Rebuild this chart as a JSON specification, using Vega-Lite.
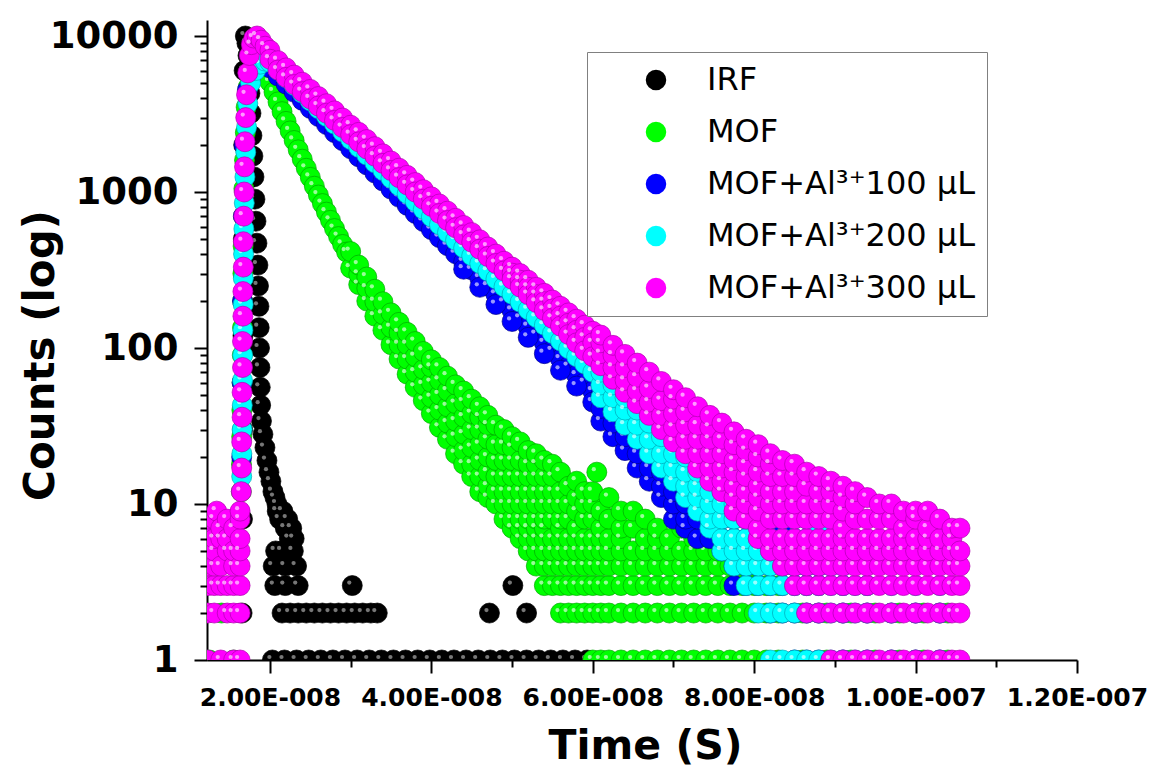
{
"$schema":"https://vega.github.io/schema/vega-lite/v6.json",
"width":870,"height":640,
"autosize":{"type":"none"},
"padding":{"left":207,"top":20,"right":75,"bottom":111},
"background":"white",
"config":{"view":{"stroke":null},"font":"DejaVu Sans"},
"datasets":{
"irf":[{"ns":16.55,"c":2},{"ns":16.6,"c":8},{"ns":16.62,"c":30},{"ns":16.66,"c":120},{"ns":16.7,"c":500},{"ns":16.75,"c":2000},{"ns":16.8,"c":6000},{"ns":16.95,"c":10000},{"ns":17.15,"c":9000},{"ns":17.28,"c":7500},{"ns":17.4,"c":5800},{"ns":17.52,"c":4300},{"ns":17.65,"c":3200},{"ns":17.77,"c":2300},{"ns":17.89,"c":1700},{"ns":18.02,"c":1250},{"ns":18.14,"c":900},{"ns":18.27,"c":650},{"ns":18.39,"c":470},{"ns":18.51,"c":340},{"ns":18.58,"c":250},{"ns":18.64,"c":185},{"ns":18.67,"c":135},{"ns":18.71,"c":100},{"ns":18.76,"c":75},{"ns":18.8,"c":56},{"ns":18.85,"c":43},{"ns":18.95,"c":34},{"ns":19.13,"c":28},{"ns":19.38,"c":23},{"ns":19.63,"c":19},{"ns":19.88,"c":16},{"ns":20.12,"c":14},{"ns":20.37,"c":12},{"ns":20.62,"c":11},{"ns":20.87,"c":10},{"ns":20.9,"c":9},{"ns":21.2,"c":8},{"ns":21.6,"c":9},{"ns":21.9,"c":7},{"ns":22.2,"c":8},{"ns":22.4,"c":6},{"ns":22.7,"c":7},{"ns":23.0,"c":6},{"ns":20.7,"c":5},{"ns":21.5,"c":5},{"ns":22.9,"c":5},{"ns":20.4,"c":4},{"ns":21.9,"c":4},{"ns":23.3,"c":4},{"ns":20.6,"c":3},{"ns":21.9,"c":3},{"ns":23.5,"c":3},{"ns":30.2,"c":3},{"ns":50.1,"c":3},
{"ns":21.5,"c":2},{"ns":22.5,"c":2},{"ns":23.5,"c":2},{"ns":24.5,"c":2},{"ns":25.5,"c":2},{"ns":26.5,"c":2},{"ns":27.5,"c":2},{"ns":28.5,"c":2},{"ns":29.5,"c":2},{"ns":30.5,"c":2},{"ns":31.5,"c":2},{"ns":32.5,"c":2},{"ns":33.3,"c":2},{"ns":47.2,"c":2},{"ns":51.8,"c":2},
{"ns":20.3,"c":1},{"ns":21.8,"c":1},{"ns":23.3,"c":1},{"ns":24.8,"c":1},{"ns":26.3,"c":1},{"ns":27.8,"c":1},{"ns":29.3,"c":1},{"ns":30.8,"c":1},{"ns":32.3,"c":1},{"ns":33.8,"c":1},{"ns":35.3,"c":1},{"ns":36.8,"c":1},{"ns":38.3,"c":1},{"ns":39.8,"c":1},{"ns":41.3,"c":1},{"ns":42.8,"c":1},{"ns":44.3,"c":1},{"ns":45.8,"c":1},{"ns":47.3,"c":1},{"ns":48.8,"c":1},{"ns":50.3,"c":1},{"ns":51.8,"c":1},{"ns":53.3,"c":1},{"ns":54.8,"c":1},{"ns":56.3,"c":1},{"ns":57.8,"c":1},{"ns":59.3,"c":1}],
"mof":[{"ns":12.5,"c":1},{"ns":14.0,"c":2},{"ns":15.5,"c":1},
{"ns":16.45,"c":12},{"ns":16.47,"c":18},{"ns":16.5,"c":27},{"ns":16.52,"c":40},{"ns":16.55,"c":60},{"ns":16.57,"c":90},{"ns":16.6,"c":135},{"ns":16.62,"c":200},{"ns":16.65,"c":300},{"ns":16.68,"c":450},{"ns":16.72,"c":700},{"ns":16.77,"c":1050},{"ns":16.85,"c":1600},{"ns":16.95,"c":2400},{"ns":17.05,"c":3500},{"ns":17.3,"c":4700},{"ns":17.9,"c":5800},{"ns":18.5,"c":6500},{"ns":19.0,"c":6830},
{"ns":19.5,"c":5886},{"ns":20,"c":5073},{"ns":20.5,"c":4380},{"ns":21,"c":3782},{"ns":21.5,"c":3275},{"ns":22,"c":2836},{"ns":22.5,"c":2463},{"ns":23,"c":2139},{"ns":23.5,"c":1863},{"ns":24,"c":1623},{"ns":24.5,"c":1419},{"ns":25,"c":1241},{"ns":25.5,"c":1089},{"ns":26,"c":956},{"ns":26.5,"c":843},{"ns":27,"c":743},{"ns":27.5,"c":658},{"ns":28,"c":583},{"ns":28.5,"c":518},{"ns":29,"c":461},{"ns":29.5,"c":412},
{"ns":30,"c":325},{"ns":30,"c":415},
{"ns":31,"c":255},{"ns":31,"c":297},{"ns":31,"c":340},
{"ns":32,"c":200},{"ns":32,"c":242},{"ns":32,"c":285},
{"ns":33,"c":160},{"ns":33,"c":198},{"ns":33,"c":238},
{"ns":34,"c":130},{"ns":34,"c":164},{"ns":34,"c":198},
{"ns":35,"c":105},{"ns":35,"c":135},{"ns":35,"c":168},
{"ns":36,"c":85},{"ns":36,"c":105},{"ns":36,"c":125},{"ns":36,"c":146},
{"ns":37,"c":68},{"ns":37,"c":85},{"ns":37,"c":105},{"ns":37,"c":126},
{"ns":38,"c":56},{"ns":38,"c":70},{"ns":38,"c":88},{"ns":38,"c":110},
{"ns":39,"c":46},{"ns":39,"c":58},{"ns":39,"c":73},{"ns":39,"c":95},
{"ns":40,"c":38},{"ns":40,"c":48},{"ns":40,"c":60},{"ns":40,"c":75},{"ns":40,"c":84},
{"ns":41,"c":31},{"ns":41,"c":40},{"ns":41,"c":50},{"ns":41,"c":62},{"ns":41,"c":75},
{"ns":42,"c":26},{"ns":42,"c":33},{"ns":42,"c":42},{"ns":42,"c":53},{"ns":42,"c":66},
{"ns":43,"c":21},{"ns":43,"c":27},{"ns":43,"c":34},{"ns":43,"c":44},{"ns":43,"c":58},
{"ns":44,"c":18},{"ns":44,"c":22},{"ns":44,"c":28},{"ns":44,"c":36},{"ns":44,"c":45},{"ns":44,"c":53},
{"ns":45,"c":15},{"ns":45,"c":18},{"ns":45,"c":23},{"ns":45,"c":30},{"ns":45,"c":38},{"ns":45,"c":47},
{"ns":46,"c":12},{"ns":46,"c":15},{"ns":46,"c":19},{"ns":46,"c":24},{"ns":46,"c":30},{"ns":46,"c":36},{"ns":46,"c":42},
{"ns":47,"c":11},{"ns":47,"c":13},{"ns":47,"c":16},{"ns":47,"c":20},{"ns":47,"c":26},{"ns":47,"c":32},{"ns":47,"c":37},
{"ns":48,"c":10},{"ns":48,"c":12},{"ns":48,"c":15},{"ns":48,"c":19},{"ns":48,"c":24},{"ns":48,"c":32},
{"ns":49,"c":8},{"ns":49,"c":10},{"ns":49,"c":12},{"ns":49,"c":15},{"ns":49,"c":19},{"ns":49,"c":24},{"ns":49,"c":30},
{"ns":50,"c":7},{"ns":50,"c":8},{"ns":50,"c":10},{"ns":50,"c":12},{"ns":50,"c":15},{"ns":50,"c":19},{"ns":50,"c":23},{"ns":50,"c":27},
{"ns":51,"c":6},{"ns":51,"c":7},{"ns":51,"c":8},{"ns":51,"c":10},{"ns":51,"c":12},{"ns":51,"c":15},{"ns":51,"c":19},{"ns":51,"c":25},
{"ns":52,"c":5},{"ns":52,"c":6},{"ns":52,"c":7},{"ns":52,"c":8},{"ns":52,"c":10},{"ns":52,"c":12},{"ns":52,"c":15},{"ns":52,"c":18},{"ns":52,"c":22},
{"ns":53,"c":4},{"ns":53,"c":5},{"ns":53,"c":6},{"ns":53,"c":7},{"ns":53,"c":8},{"ns":53,"c":10},{"ns":53,"c":12},{"ns":53,"c":15},{"ns":53,"c":18},{"ns":53,"c":21},
{"ns":54,"c":3},{"ns":54,"c":4},{"ns":54,"c":5},{"ns":54,"c":6},{"ns":54,"c":7},{"ns":54,"c":8},{"ns":54,"c":10},{"ns":54,"c":12},{"ns":54,"c":15},{"ns":54,"c":19},
{"ns":55,"c":3},{"ns":55,"c":4},{"ns":55,"c":5},{"ns":55,"c":6},{"ns":55,"c":8},{"ns":55,"c":10},{"ns":55,"c":12},{"ns":55,"c":15},{"ns":55,"c":18},
{"ns":56,"c":2},{"ns":56,"c":3},{"ns":56,"c":4},{"ns":56,"c":5},{"ns":56,"c":6},{"ns":56,"c":7},{"ns":56,"c":8},{"ns":56,"c":10},{"ns":56,"c":12},{"ns":56,"c":16},
{"ns":57,"c":2},{"ns":57,"c":3},{"ns":57,"c":4},{"ns":57,"c":5},{"ns":57,"c":6},{"ns":57,"c":8},{"ns":57,"c":10},{"ns":57,"c":13},
{"ns":58,"c":2},{"ns":58,"c":3},{"ns":58,"c":4},{"ns":58,"c":5},{"ns":58,"c":6},{"ns":58,"c":7},{"ns":58,"c":9},{"ns":58,"c":11},{"ns":58,"c":14},
{"ns":59,"c":2},{"ns":59,"c":3},{"ns":59,"c":4},{"ns":59,"c":5},{"ns":59,"c":6},{"ns":59,"c":8},{"ns":59,"c":10},{"ns":59,"c":12},
{"ns":60,"c":1},{"ns":60,"c":2},{"ns":60,"c":3},{"ns":60,"c":4},{"ns":60,"c":5},{"ns":60,"c":6},{"ns":60,"c":8},{"ns":60,"c":10},{"ns":60,"c":12},
{"ns":60.5,"c":16},
{"ns":61,"c":1},{"ns":61,"c":2},{"ns":61,"c":3},{"ns":61,"c":4},{"ns":61,"c":5},{"ns":61,"c":6},{"ns":61,"c":7},{"ns":61,"c":9},
{"ns":62,"c":1},{"ns":62,"c":2},{"ns":62,"c":3},{"ns":62,"c":4},{"ns":62,"c":5},{"ns":62,"c":6},{"ns":62,"c":8},{"ns":62,"c":11},
{"ns":63.5,"c":1},{"ns":63.5,"c":2},{"ns":63.5,"c":3},{"ns":63.5,"c":4},{"ns":63.5,"c":5},{"ns":63.5,"c":6},{"ns":63.5,"c":7},{"ns":63.5,"c":9},
{"ns":65,"c":1},{"ns":65,"c":2},{"ns":65,"c":3},{"ns":65,"c":4},{"ns":65,"c":5},{"ns":65,"c":7},{"ns":65,"c":9},
{"ns":66.5,"c":1},{"ns":66.5,"c":2},{"ns":66.5,"c":3},{"ns":66.5,"c":4},{"ns":66.5,"c":5},{"ns":66.5,"c":6},{"ns":66.5,"c":8},
{"ns":68,"c":1},{"ns":68,"c":2},{"ns":68,"c":3},{"ns":68,"c":4},{"ns":68,"c":5},{"ns":68,"c":6},{"ns":68,"c":7},
{"ns":69.5,"c":1},{"ns":69.5,"c":2},{"ns":69.5,"c":3},{"ns":69.5,"c":4},{"ns":69.5,"c":5},{"ns":69.5,"c":6},
{"ns":71,"c":1},{"ns":71,"c":2},{"ns":71,"c":3},{"ns":71,"c":4},{"ns":71,"c":5},{"ns":71,"c":7},
{"ns":72.5,"c":1},{"ns":72.5,"c":2},{"ns":72.5,"c":3},{"ns":72.5,"c":4},{"ns":72.5,"c":5},{"ns":72.5,"c":6},
{"ns":74,"c":1},{"ns":74,"c":2},{"ns":74,"c":3},{"ns":74,"c":4},{"ns":74,"c":5},
{"ns":75.5,"c":1},{"ns":75.5,"c":2},{"ns":75.5,"c":3},{"ns":75.5,"c":4},{"ns":75.5,"c":5},
{"ns":77,"c":1},{"ns":77,"c":2},{"ns":77,"c":3},{"ns":77,"c":4},{"ns":77,"c":5},
{"ns":78.5,"c":1},{"ns":78.5,"c":2},{"ns":78.5,"c":3},{"ns":78.5,"c":4},
{"ns":80,"c":1},{"ns":80,"c":2},{"ns":80,"c":3},{"ns":80,"c":4},
{"ns":81.5,"c":1},{"ns":81.5,"c":2},{"ns":81.5,"c":3},
{"ns":83,"c":1},{"ns":83,"c":2},{"ns":83,"c":3},
{"ns":86,"c":1},{"ns":86,"c":2},{"ns":89,"c":1},{"ns":89,"c":2},{"ns":92,"c":1},{"ns":92,"c":2},{"ns":95,"c":1},{"ns":95,"c":2},{"ns":98,"c":1},{"ns":98,"c":2},{"ns":101,"c":1},{"ns":101,"c":2},{"ns":104,"c":1},{"ns":104,"c":2}],
"m100":[{"ns":16.5,"c":20},{"ns":16.55,"c":60},{"ns":16.6,"c":200},{"ns":16.7,"c":700},{"ns":16.8,"c":2000},{"ns":17.2,"c":4500},{"ns":18.0,"c":6000},{"ns":18.7,"c":6700},{"ns":19.3,"c":6600},
{"ns":20,"c":6236},{"ns":21,"c":5535},{"ns":22,"c":4913},{"ns":23,"c":4361},{"ns":24,"c":3871},{"ns":25,"c":3435},{"ns":26,"c":3049},{"ns":27,"c":2707},{"ns":28,"c":2403},{"ns":29,"c":2133},{"ns":30,"c":1893},{"ns":31,"c":1680},{"ns":32,"c":1491},{"ns":33,"c":1323},{"ns":34,"c":1175},{"ns":35,"c":1043},{"ns":36,"c":925},{"ns":37,"c":821},{"ns":38,"c":729},{"ns":39,"c":647},{"ns":40,"c":574},{"ns":41,"c":510},{"ns":42,"c":453},{"ns":43,"c":402},{"ns":44,"c":357},{"ns":45,"c":317},{"ns":46,"c":281},{"ns":47,"c":249},{"ns":48,"c":221},{"ns":49,"c":196},{"ns":50,"c":174},{"ns":51,"c":155},{"ns":52,"c":137},{"ns":53,"c":122},{"ns":54,"c":108},{"ns":55,"c":96},{"ns":56,"c":85},{"ns":57,"c":76},{"ns":58,"c":67},{"ns":59,"c":60},{"ns":60,"c":53},
{"ns":44,"c":320},{"ns":46,"c":245},{"ns":48,"c":190},{"ns":50,"c":148},{"ns":52,"c":117},{"ns":54,"c":92},{"ns":56,"c":72},{"ns":58,"c":57},{"ns":60,"c":45},
{"ns":61,"c":34},{"ns":61,"c":41},{"ns":61,"c":50},{"ns":61,"c":61},
{"ns":62.5,"c":27},{"ns":62.5,"c":33},{"ns":62.5,"c":40},{"ns":62.5,"c":52},
{"ns":64,"c":22},{"ns":64,"c":27},{"ns":64,"c":33},{"ns":64,"c":45},
{"ns":65.5,"c":17},{"ns":65.5,"c":21},{"ns":65.5,"c":27},{"ns":65.5,"c":33},{"ns":65.5,"c":38},
{"ns":67,"c":14},{"ns":67,"c":17},{"ns":67,"c":22},{"ns":67,"c":27},{"ns":67,"c":33},
{"ns":68.5,"c":11},{"ns":68.5,"c":13},{"ns":68.5,"c":16},{"ns":68.5,"c":20},{"ns":68.5,"c":24},{"ns":68.5,"c":28},
{"ns":70,"c":8},{"ns":70,"c":10},{"ns":70,"c":12},{"ns":70,"c":15},{"ns":70,"c":19},{"ns":70,"c":24},
{"ns":71.5,"c":7},{"ns":71.5,"c":8},{"ns":71.5,"c":10},{"ns":71.5,"c":12},{"ns":71.5,"c":15},{"ns":71.5,"c":18},{"ns":71.5,"c":21},
{"ns":73,"c":6},{"ns":73,"c":8},{"ns":73,"c":10},{"ns":73,"c":12},{"ns":73,"c":15},{"ns":73,"c":18},
{"ns":74.5,"c":6},{"ns":74.5,"c":8},{"ns":74.5,"c":10},{"ns":74.5,"c":13},{"ns":74.5,"c":16},
{"ns":76,"c":5},{"ns":76,"c":6},{"ns":76,"c":8},{"ns":76,"c":10},{"ns":76,"c":12},{"ns":76,"c":14},
{"ns":77.5,"c":3},{"ns":77.5,"c":4},{"ns":77.5,"c":5},{"ns":77.5,"c":6},{"ns":77.5,"c":8},{"ns":77.5,"c":10},{"ns":77.5,"c":12},
{"ns":79,"c":3},{"ns":79,"c":4},{"ns":79,"c":5},{"ns":79,"c":6},{"ns":79,"c":8},{"ns":79,"c":10},
{"ns":80.5,"c":3},{"ns":80.5,"c":4},{"ns":80.5,"c":5},{"ns":80.5,"c":6},{"ns":80.5,"c":8},{"ns":80.5,"c":9},
{"ns":82,"c":2},{"ns":82,"c":3},{"ns":82,"c":4},{"ns":82,"c":5},{"ns":82,"c":6},{"ns":82,"c":8},
{"ns":83.5,"c":2},{"ns":83.5,"c":3},{"ns":83.5,"c":4},{"ns":83.5,"c":5},{"ns":83.5,"c":7},
{"ns":85,"c":1},{"ns":85,"c":2},{"ns":85,"c":3},{"ns":85,"c":4},{"ns":85,"c":6},
{"ns":86.5,"c":1},{"ns":86.5,"c":2},{"ns":86.5,"c":3},{"ns":86.5,"c":4},{"ns":86.5,"c":5},
{"ns":88,"c":1},{"ns":88,"c":2},{"ns":88,"c":3},{"ns":88,"c":4},
{"ns":91,"c":1},{"ns":91,"c":2},{"ns":91,"c":3},{"ns":94,"c":1},{"ns":94,"c":2},{"ns":94,"c":3},{"ns":97,"c":1},{"ns":97,"c":2},{"ns":100,"c":1},{"ns":100,"c":2},{"ns":103,"c":1},{"ns":103,"c":2}],
"m200":[{"ns":16.5,"c":15},{"ns":16.52,"c":21},{"ns":16.55,"c":30},{"ns":16.57,"c":43},{"ns":16.6,"c":62},{"ns":16.62,"c":90},{"ns":16.65,"c":130},{"ns":16.68,"c":190},{"ns":16.7,"c":280},{"ns":16.73,"c":400},{"ns":16.77,"c":580},{"ns":16.82,"c":850},{"ns":16.9,"c":1250},{"ns":17.0,"c":1800},{"ns":17.1,"c":2600},{"ns":17.25,"c":3700},{"ns":17.6,"c":5000},{"ns":18.2,"c":6000},{"ns":18.8,"c":6600},{"ns":19.4,"c":6900},
{"ns":20,"c":6800},{"ns":21,"c":6066},{"ns":22,"c":5411},{"ns":23,"c":4826},{"ns":24,"c":4305},{"ns":25,"c":3840},{"ns":26,"c":3425},{"ns":27,"c":3055},{"ns":28,"c":2725},{"ns":29,"c":2431},{"ns":30,"c":2169},{"ns":31,"c":1934},{"ns":32,"c":1725},{"ns":33,"c":1539},{"ns":34,"c":1373},{"ns":35,"c":1225},{"ns":36,"c":1092},{"ns":37,"c":974},{"ns":38,"c":869},{"ns":39,"c":775},{"ns":40,"c":692},{"ns":41,"c":617},{"ns":42,"c":550},{"ns":43,"c":491},{"ns":44,"c":438},{"ns":45,"c":390},{"ns":46,"c":348},{"ns":47,"c":311},{"ns":48,"c":277},{"ns":49,"c":247},{"ns":50,"c":221},{"ns":51,"c":197},{"ns":52,"c":176},{"ns":53,"c":157},{"ns":54,"c":140},{"ns":55,"c":124},{"ns":56,"c":111},{"ns":57,"c":99},{"ns":58,"c":88},{"ns":59,"c":79},{"ns":60,"c":70},
{"ns":61,"c":48},{"ns":61,"c":58},{"ns":61,"c":70},{"ns":61,"c":80},
{"ns":62.5,"c":39},{"ns":62.5,"c":48},{"ns":62.5,"c":58},{"ns":62.5,"c":68},
{"ns":64,"c":32},{"ns":64,"c":40},{"ns":64,"c":48},{"ns":64,"c":59},
{"ns":65.5,"c":26},{"ns":65.5,"c":32},{"ns":65.5,"c":40},{"ns":65.5,"c":51},
{"ns":67,"c":21},{"ns":67,"c":26},{"ns":67,"c":33},{"ns":67,"c":44},
{"ns":68.5,"c":17},{"ns":68.5,"c":21},{"ns":68.5,"c":27},{"ns":68.5,"c":33},{"ns":68.5,"c":38},
{"ns":70,"c":14},{"ns":70,"c":17},{"ns":70,"c":21},{"ns":70,"c":27},{"ns":70,"c":33},
{"ns":71.5,"c":11},{"ns":71.5,"c":13},{"ns":71.5,"c":16},{"ns":71.5,"c":20},{"ns":71.5,"c":24},{"ns":71.5,"c":29},
{"ns":73,"c":9},{"ns":73,"c":11},{"ns":73,"c":13},{"ns":73,"c":16},{"ns":73,"c":20},{"ns":73,"c":25},
{"ns":74.5,"c":7},{"ns":74.5,"c":8},{"ns":74.5,"c":10},{"ns":74.5,"c":12},{"ns":74.5,"c":15},{"ns":74.5,"c":18},{"ns":74.5,"c":22},
{"ns":76,"c":5},{"ns":76,"c":6},{"ns":76,"c":8},{"ns":76,"c":10},{"ns":76,"c":12},{"ns":76,"c":15},{"ns":76,"c":19},
{"ns":77.5,"c":4},{"ns":77.5,"c":5},{"ns":77.5,"c":6},{"ns":77.5,"c":8},{"ns":77.5,"c":10},{"ns":77.5,"c":12},{"ns":77.5,"c":14},{"ns":77.5,"c":17},
{"ns":79,"c":3},{"ns":79,"c":4},{"ns":79,"c":5},{"ns":79,"c":6},{"ns":79,"c":8},{"ns":79,"c":10},{"ns":79,"c":12},{"ns":79,"c":15},
{"ns":80.5,"c":2},{"ns":80.5,"c":3},{"ns":80.5,"c":4},{"ns":80.5,"c":5},{"ns":80.5,"c":6},{"ns":80.5,"c":8},{"ns":80.5,"c":10},{"ns":80.5,"c":13},
{"ns":82,"c":1},{"ns":82,"c":2},{"ns":82,"c":3},{"ns":82,"c":4},{"ns":82,"c":5},{"ns":82,"c":6},{"ns":82,"c":8},{"ns":82,"c":10},{"ns":82,"c":12},
{"ns":83.5,"c":1},{"ns":83.5,"c":2},{"ns":83.5,"c":3},{"ns":83.5,"c":4},{"ns":83.5,"c":5},{"ns":83.5,"c":6},{"ns":83.5,"c":8},{"ns":83.5,"c":10},
{"ns":85,"c":1},{"ns":85,"c":2},{"ns":85,"c":3},{"ns":85,"c":4},{"ns":85,"c":5},{"ns":85,"c":6},{"ns":85,"c":8},{"ns":85,"c":9},
{"ns":86.5,"c":1},{"ns":86.5,"c":2},{"ns":86.5,"c":3},{"ns":86.5,"c":4},{"ns":86.5,"c":5},{"ns":86.5,"c":6},{"ns":86.5,"c":8},
{"ns":88,"c":1},{"ns":88,"c":2},{"ns":88,"c":3},{"ns":88,"c":4},{"ns":88,"c":5},{"ns":88,"c":7},
{"ns":89.5,"c":1},{"ns":89.5,"c":2},{"ns":89.5,"c":3},{"ns":89.5,"c":4},{"ns":89.5,"c":6},
{"ns":91,"c":1},{"ns":91,"c":2},{"ns":91,"c":3},{"ns":91,"c":4},{"ns":91,"c":6},
{"ns":92.5,"c":1},{"ns":92.5,"c":2},{"ns":92.5,"c":3},{"ns":92.5,"c":5},
{"ns":94,"c":1},{"ns":94,"c":2},{"ns":94,"c":3},{"ns":94,"c":5},
{"ns":97,"c":1},{"ns":97,"c":2},{"ns":97,"c":3},{"ns":100,"c":1},{"ns":100,"c":2},{"ns":100,"c":3},{"ns":103,"c":1},{"ns":103,"c":2},{"ns":103,"c":3}],
"m300":[{"ns":12.3,"c":1},{"ns":12.3,"c":2},{"ns":12.3,"c":3},{"ns":12.3,"c":4},{"ns":12.3,"c":5},{"ns":12.3,"c":6},{"ns":12.3,"c":7},{"ns":12.3,"c":8},
{"ns":13.1,"c":2},{"ns":13.1,"c":3},{"ns":13.1,"c":4},{"ns":13.1,"c":5},{"ns":13.1,"c":6},{"ns":13.1,"c":8},{"ns":13.4,"c":9},
{"ns":13.9,"c":1},{"ns":13.9,"c":3},{"ns":13.9,"c":4},{"ns":13.9,"c":6},{"ns":13.9,"c":7},
{"ns":14.7,"c":2},{"ns":14.7,"c":3},{"ns":14.7,"c":5},{"ns":14.7,"c":6},{"ns":14.7,"c":8},
{"ns":15.5,"c":1},{"ns":15.5,"c":2},{"ns":15.5,"c":3},{"ns":15.5,"c":4},{"ns":15.5,"c":5},{"ns":15.5,"c":7},
{"ns":16.3,"c":1},{"ns":16.3,"c":2},{"ns":16.3,"c":3},{"ns":16.3,"c":4},{"ns":16.3,"c":5},{"ns":16.3,"c":6},{"ns":16.3,"c":8},{"ns":16.3,"c":9},
{"ns":16.45,"c":12},{"ns":16.5,"c":17},{"ns":16.5,"c":25},{"ns":16.55,"c":36},{"ns":16.55,"c":52},{"ns":16.6,"c":75},{"ns":16.6,"c":110},{"ns":16.65,"c":160},{"ns":16.65,"c":230},{"ns":16.7,"c":330},{"ns":16.7,"c":480},{"ns":16.75,"c":700},{"ns":16.8,"c":1000},{"ns":16.85,"c":1450},{"ns":16.9,"c":2100},{"ns":17.0,"c":3000},{"ns":17.1,"c":4200},{"ns":17.25,"c":5800},{"ns":17.45,"c":7500},{"ns":17.7,"c":8800},{"ns":18.0,"c":9700},{"ns":18.4,"c":10000},{"ns":18.9,"c":9400},{"ns":19.4,"c":8600},
{"ns":20,"c":8100},{"ns":20,"c":7100},{"ns":21,"c":6950},{"ns":21,"c":6050},{"ns":22,"c":6245},{"ns":22,"c":5427},{"ns":23,"c":5620},{"ns":23,"c":4885},{"ns":24,"c":5055},{"ns":24,"c":4393},{"ns":25,"c":4548},{"ns":25,"c":3953},{"ns":26,"c":4092},{"ns":26,"c":3556},{"ns":27,"c":3681},{"ns":27,"c":3199},{"ns":28,"c":3312},{"ns":28,"c":2878},{"ns":29,"c":2980},{"ns":29,"c":2590},{"ns":30,"c":2680},{"ns":30,"c":2330},{"ns":31,"c":2412},{"ns":31,"c":2096},{"ns":32,"c":2170},{"ns":32,"c":1886},{"ns":33,"c":1952},{"ns":33,"c":1696},{"ns":34,"c":1756},{"ns":34,"c":1526},{"ns":35,"c":1580},{"ns":35,"c":1374},{"ns":36,"c":1422},{"ns":36,"c":1236},{"ns":37,"c":1279},{"ns":37,"c":1111},{"ns":38,"c":1150},{"ns":38,"c":1000},{"ns":39,"c":1035},{"ns":39,"c":899},{"ns":40,"c":931},{"ns":40,"c":809},{"ns":41,"c":838},{"ns":41,"c":728},{"ns":42,"c":754},{"ns":42,"c":656},{"ns":43,"c":678},{"ns":43,"c":590},{"ns":44,"c":610},{"ns":44,"c":530},{"ns":45,"c":549},{"ns":45,"c":477},{"ns":46,"c":494},{"ns":46,"c":430},{"ns":47,"c":444},{"ns":47,"c":386},{"ns":48,"c":400},{"ns":48,"c":348},{"ns":49,"c":360},{"ns":49,"c":312},
{"ns":50,"c":330},{"ns":50,"c":302},{"ns":50,"c":276},{"ns":51,"c":300},{"ns":51,"c":272},{"ns":51,"c":246},{"ns":52,"c":272},{"ns":52,"c":245},{"ns":52,"c":220},{"ns":53,"c":245},{"ns":53,"c":220},{"ns":53,"c":196},{"ns":54,"c":224},{"ns":54,"c":198},{"ns":54,"c":174},{"ns":55,"c":203},{"ns":55,"c":178},{"ns":55,"c":155},{"ns":56,"c":185},{"ns":56,"c":160},{"ns":56,"c":138},{"ns":57,"c":168},{"ns":57,"c":144},{"ns":57,"c":122},{"ns":58,"c":153},{"ns":58,"c":130},{"ns":58,"c":108},{"ns":59,"c":140},{"ns":59,"c":117},{"ns":59,"c":96},{"ns":60,"c":128},{"ns":60,"c":108},{"ns":60,"c":88},
{"ns":61,"c":77},{"ns":61,"c":92},{"ns":61,"c":108},{"ns":61,"c":121},
{"ns":62.5,"c":63},{"ns":62.5,"c":75},{"ns":62.5,"c":90},{"ns":62.5,"c":104},
{"ns":64,"c":52},{"ns":64,"c":62},{"ns":64,"c":75},{"ns":64,"c":91},
{"ns":65.5,"c":44},{"ns":65.5,"c":53},{"ns":65.5,"c":65},{"ns":65.5,"c":80},
{"ns":67,"c":37},{"ns":67,"c":45},{"ns":67,"c":55},{"ns":67,"c":70},
{"ns":68.5,"c":30},{"ns":68.5,"c":37},{"ns":68.5,"c":46},{"ns":68.5,"c":61},
{"ns":70,"c":25},{"ns":70,"c":31},{"ns":70,"c":38},{"ns":70,"c":47},{"ns":70,"c":54},
{"ns":71.5,"c":21},{"ns":71.5,"c":26},{"ns":71.5,"c":32},{"ns":71.5,"c":39},{"ns":71.5,"c":48},
{"ns":73,"c":17},{"ns":73,"c":21},{"ns":73,"c":26},{"ns":73,"c":32},{"ns":73,"c":42},
{"ns":74.5,"c":14},{"ns":74.5,"c":17},{"ns":74.5,"c":21},{"ns":74.5,"c":26},{"ns":74.5,"c":31},{"ns":74.5,"c":37},
{"ns":76,"c":12},{"ns":76,"c":14},{"ns":76,"c":17},{"ns":76,"c":21},{"ns":76,"c":26},{"ns":76,"c":33},
{"ns":77.5,"c":9},{"ns":77.5,"c":11},{"ns":77.5,"c":13},{"ns":77.5,"c":16},{"ns":77.5,"c":19},{"ns":77.5,"c":24},{"ns":77.5,"c":29},
{"ns":79,"c":8},{"ns":79,"c":10},{"ns":79,"c":12},{"ns":79,"c":15},{"ns":79,"c":18},{"ns":79,"c":22},{"ns":79,"c":26},
{"ns":80.5,"c":6},{"ns":80.5,"c":7},{"ns":80.5,"c":9},{"ns":80.5,"c":11},{"ns":80.5,"c":13},{"ns":80.5,"c":16},{"ns":80.5,"c":20},{"ns":80.5,"c":24},
{"ns":82,"c":5},{"ns":82,"c":6},{"ns":82,"c":8},{"ns":82,"c":10},{"ns":82,"c":12},{"ns":82,"c":15},{"ns":82,"c":18},{"ns":82,"c":21},
{"ns":83.5,"c":4},{"ns":83.5,"c":5},{"ns":83.5,"c":6},{"ns":83.5,"c":8},{"ns":83.5,"c":10},{"ns":83.5,"c":12},{"ns":83.5,"c":15},{"ns":83.5,"c":19},
{"ns":85,"c":3},{"ns":85,"c":4},{"ns":85,"c":5},{"ns":85,"c":6},{"ns":85,"c":8},{"ns":85,"c":10},{"ns":85,"c":12},{"ns":85,"c":15},{"ns":85,"c":18},
{"ns":86.5,"c":2},{"ns":86.5,"c":3},{"ns":86.5,"c":4},{"ns":86.5,"c":5},{"ns":86.5,"c":6},{"ns":86.5,"c":8},{"ns":86.5,"c":10},{"ns":86.5,"c":13},{"ns":86.5,"c":16},
{"ns":88,"c":2},{"ns":88,"c":3},{"ns":88,"c":4},{"ns":88,"c":5},{"ns":88,"c":6},{"ns":88,"c":8},{"ns":88,"c":10},{"ns":88,"c":12},{"ns":88,"c":15},
{"ns":89.5,"c":1},{"ns":89.5,"c":2},{"ns":89.5,"c":3},{"ns":89.5,"c":4},{"ns":89.5,"c":5},{"ns":89.5,"c":6},{"ns":89.5,"c":8},{"ns":89.5,"c":10},{"ns":89.5,"c":12},{"ns":89.5,"c":14},
{"ns":91,"c":1},{"ns":91,"c":2},{"ns":91,"c":3},{"ns":91,"c":4},{"ns":91,"c":5},{"ns":91,"c":6},{"ns":91,"c":7},{"ns":91,"c":9},{"ns":91,"c":11},{"ns":91,"c":13},
{"ns":92.5,"c":1},{"ns":92.5,"c":2},{"ns":92.5,"c":3},{"ns":92.5,"c":4},{"ns":92.5,"c":5},{"ns":92.5,"c":6},{"ns":92.5,"c":8},{"ns":92.5,"c":10},{"ns":92.5,"c":12},
{"ns":94,"c":1},{"ns":94,"c":2},{"ns":94,"c":3},{"ns":94,"c":4},{"ns":94,"c":5},{"ns":94,"c":6},{"ns":94,"c":8},{"ns":94,"c":11},
{"ns":95.5,"c":1},{"ns":95.5,"c":2},{"ns":95.5,"c":3},{"ns":95.5,"c":4},{"ns":95.5,"c":5},{"ns":95.5,"c":6},{"ns":95.5,"c":8},{"ns":95.5,"c":10},
{"ns":97,"c":1},{"ns":97,"c":2},{"ns":97,"c":3},{"ns":97,"c":4},{"ns":97,"c":5},{"ns":97,"c":6},{"ns":97,"c":8},{"ns":97,"c":10},
{"ns":98.5,"c":1},{"ns":98.5,"c":2},{"ns":98.5,"c":3},{"ns":98.5,"c":4},{"ns":98.5,"c":5},{"ns":98.5,"c":6},{"ns":98.5,"c":7},{"ns":98.5,"c":9},
{"ns":100,"c":1},{"ns":100,"c":2},{"ns":100,"c":3},{"ns":100,"c":4},{"ns":100,"c":5},{"ns":100,"c":6},{"ns":100,"c":8},{"ns":100,"c":9},
{"ns":101.5,"c":1},{"ns":101.5,"c":2},{"ns":101.5,"c":3},{"ns":101.5,"c":4},{"ns":101.5,"c":5},{"ns":101.5,"c":6},{"ns":101.5,"c":7},{"ns":101.5,"c":9},
{"ns":103,"c":1},{"ns":103,"c":2},{"ns":103,"c":3},{"ns":103,"c":4},{"ns":103,"c":5},{"ns":103,"c":6},{"ns":103,"c":8},
{"ns":104.5,"c":1},{"ns":104.5,"c":2},{"ns":104.5,"c":3},{"ns":104.5,"c":4},{"ns":104.5,"c":5},{"ns":104.5,"c":6},{"ns":104.5,"c":7},
{"ns":105.5,"c":1},{"ns":105.5,"c":2},{"ns":105.5,"c":3},{"ns":105.5,"c":4},{"ns":105.5,"c":5},{"ns":105.5,"c":7}]
},
"encoding":{
"x":{"field":"ns","type":"quantitative","scale":{"domain":[12.2,120],"nice":false,"zero":false},
"axis":{"orient":"bottom","title":"Time (S)","values":[20,30,40,50,60,70,80,90,100,110,120],
"labelExpr":"datum.value % 20 != 0 ? '' : (datum.value >= 100 ? format(datum.value/100,'.2f') + 'E-007' : format(datum.value/10,'.2f') + 'E-008')",
"tickSize":{"condition":{"test":"datum.value % 20 == 0","value":13},"value":7},
"tickWidth":2,"tickColor":"black","domainColor":"black","domainWidth":2,"grid":false,
"labelFont":"DejaVu Sans","labelFontWeight":"bold","labelFontSize":25,"labelColor":"black","labelPadding":12,"labelFlush":false,"labelOverlap":false,
"titleFont":"DejaVu Sans","titleFontWeight":"bold","titleFontSize":41,"titleColor":"black","titleX":438,"titleY":98,"titleBaseline":"alphabetic","titleAlign":"center"}},
"y":{"field":"c","type":"quantitative","scale":{"type":"log","domain":[1,12665],"nice":false},
"axis":{"orient":"left","title":"Counts (log)","values":[1,2,3,4,5,6,7,8,9,10,20,30,40,50,60,70,80,90,100,200,300,400,500,600,700,800,900,1000,2000,3000,4000,5000,6000,7000,8000,9000,10000],
"labelExpr":"(datum.value == 1 || datum.value == 10 || datum.value == 100 || datum.value == 1000 || datum.value == 10000) ? format(datum.value,'d') : ''",
"tickSize":{"condition":{"test":"datum.value == 1 || datum.value == 10 || datum.value == 100 || datum.value == 1000 || datum.value == 10000","value":13},"value":7},
"tickWidth":2,"tickColor":"black","domainColor":"black","domainWidth":2,"grid":false,
"labelFont":"DejaVu Sans","labelFontWeight":"bold","labelFontSize":37,"labelColor":"black","labelPadding":16,"labelOverlap":false,"labelFlush":false,
"titleFont":"DejaVu Sans","titleFontWeight":"bold","titleFontSize":42,"titleColor":"black","titleX":-154,"titleY":335,"titleAngle":-90,"titleBaseline":"alphabetic","titleAlign":"center"}}
},
"layer":[
{"data":{"name":"irf"},"mark":{"type":"point","shape":"circle","filled":true,"size":400,"opacity":1,"clip":true,"stroke":"#000000","strokeWidth":0.7},
"encoding":{"color":{"datum":"IRF","type":"nominal",
"scale":{"domain":["IRF","MOF","MOF+Al³⁺100 μL","MOF+Al³⁺200 μL","MOF+Al³⁺300 μL"],"range":["#000000","#00ff00","#0000ff","#00ffff","#ff00ff"]},
"legend":{"title":null,"orient":"none","legendX":380,"legendY":32,"padding":12,"rowPadding":20,"strokeColor":"#808080","fillColor":"white","labelFont":"DejaVu Sans","labelFontSize":32,"labelColor":"black","labelLimit":500,"symbolType":"circle","symbolSize":420,"symbolOffset":41,"labelOffset":35,"symbolStrokeWidth":0,"symbolOpacity":1}}}},
{"data":{"name":"irf"},"mark":{"type":"point","shape":"circle","filled":true,"size":18,"opacity":0.55,"color":"#d8d8d8","clip":true,"xOffset":-3,"yOffset":-3}},
{"data":{"name":"mof"},"mark":{"type":"point","shape":"circle","filled":true,"size":400,"opacity":1,"clip":true,"stroke":"#00a800","strokeWidth":0.7},
"encoding":{"color":{"datum":"MOF","type":"nominal"}}},
{"data":{"name":"mof"},"mark":{"type":"point","shape":"circle","filled":true,"size":18,"opacity":0.6,"color":"#ffffff","clip":true,"xOffset":-3,"yOffset":-3}},
{"data":{"name":"m100"},"mark":{"type":"point","shape":"circle","filled":true,"size":400,"opacity":1,"clip":true,"stroke":"#00008c","strokeWidth":0.7},
"encoding":{"color":{"datum":"MOF+Al³⁺100 μL","type":"nominal"}}},
{"data":{"name":"m100"},"mark":{"type":"point","shape":"circle","filled":true,"size":18,"opacity":0.6,"color":"#ffffff","clip":true,"xOffset":-3,"yOffset":-3}},
{"data":{"name":"m200"},"mark":{"type":"point","shape":"circle","filled":true,"size":400,"opacity":1,"clip":true,"stroke":"#00a8b8","strokeWidth":0.7},
"encoding":{"color":{"datum":"MOF+Al³⁺200 μL","type":"nominal"}}},
{"data":{"name":"m200"},"mark":{"type":"point","shape":"circle","filled":true,"size":18,"opacity":0.6,"color":"#ffffff","clip":true,"xOffset":-3,"yOffset":-3}},
{"data":{"name":"m300"},"mark":{"type":"point","shape":"circle","filled":true,"size":400,"opacity":1,"clip":true,"stroke":"#b000b0","strokeWidth":0.7},
"encoding":{"color":{"datum":"MOF+Al³⁺300 μL","type":"nominal"}}},
{"data":{"name":"m300"},"mark":{"type":"point","shape":"circle","filled":true,"size":18,"opacity":0.6,"color":"#ffffff","clip":true,"xOffset":-3,"yOffset":-3}}
]
}
